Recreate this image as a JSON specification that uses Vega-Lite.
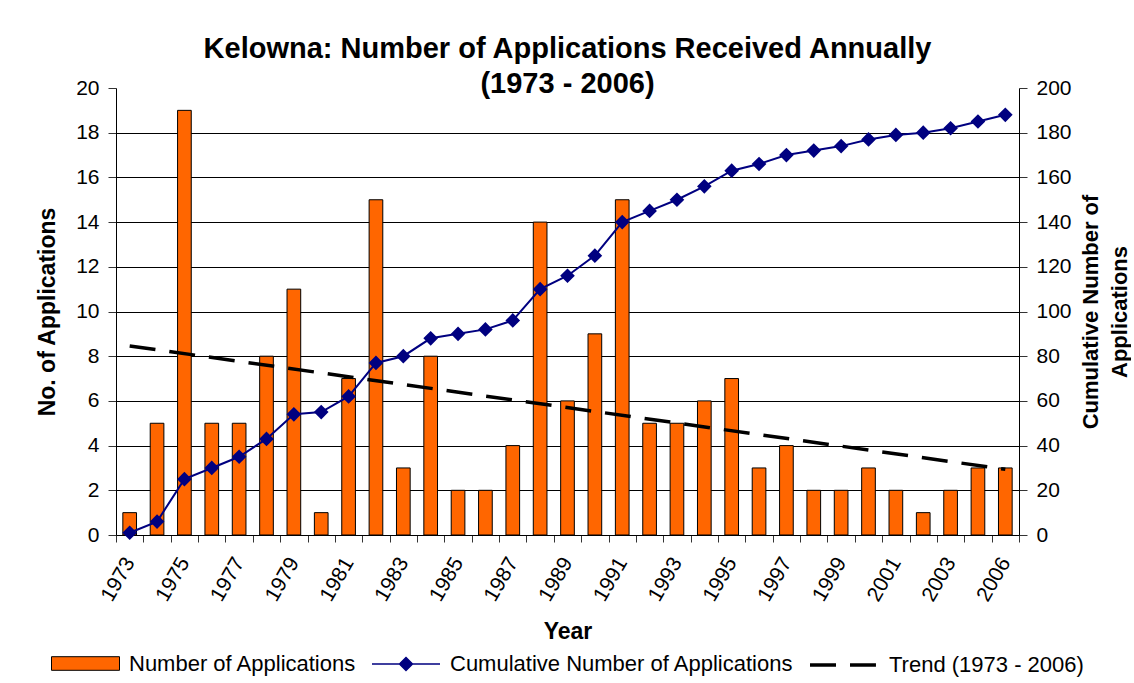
{
  "$schema": "https://vega.github.io/schema/vega-lite/v6.json",
  "width": 903,
  "height": 447,
  "padding": {"left": 36, "top": 35, "right": 0, "bottom": 5},
  "background": "white",
  "config": {
    "font": "Liberation Sans",
    "view": {"stroke": null},
    "axis": {"labelFont": "Liberation Sans", "titleFont": "Liberation Sans", "labelColor": "black", "titleColor": "black", "domainColor": "black", "tickColor": "#333333"},
    "legend": {
      "layout": {"direction": "horizontal", "anchor": "middle", "margin": 14, "left": {"direction": "vertical"}, "right": {"direction": "vertical"}}
    }
  },
  "title": {
    "text": ["Kelowna: Number of Applications Received Annually", "(1973 - 2006)"],
    "font": "Liberation Sans",
    "fontSize": 29,
    "fontWeight": "bold",
    "lineHeight": 35,
    "anchor": "middle",
    "frame": "group",
    "offset": -22,
    "color": "black"
  },
  "datasets": {
    "apps": [
      {"year": "1973", "applications": 1, "cumulative": 1},
      {"year": "1974", "applications": 5, "cumulative": 6},
      {"year": "1975", "applications": 19, "cumulative": 25},
      {"year": "1976", "applications": 5, "cumulative": 30},
      {"year": "1977", "applications": 5, "cumulative": 35},
      {"year": "1978", "applications": 8, "cumulative": 43},
      {"year": "1979", "applications": 11, "cumulative": 54},
      {"year": "1980", "applications": 1, "cumulative": 55},
      {"year": "1981", "applications": 7, "cumulative": 62},
      {"year": "1982", "applications": 15, "cumulative": 77},
      {"year": "1983", "applications": 3, "cumulative": 80},
      {"year": "1984", "applications": 8, "cumulative": 88},
      {"year": "1985", "applications": 2, "cumulative": 90},
      {"year": "1986", "applications": 2, "cumulative": 92},
      {"year": "1987", "applications": 4, "cumulative": 96},
      {"year": "1988", "applications": 14, "cumulative": 110},
      {"year": "1989", "applications": 6, "cumulative": 116},
      {"year": "1990", "applications": 9, "cumulative": 125},
      {"year": "1991", "applications": 15, "cumulative": 140},
      {"year": "1992", "applications": 5, "cumulative": 145},
      {"year": "1993", "applications": 5, "cumulative": 150},
      {"year": "1994", "applications": 6, "cumulative": 156},
      {"year": "1995", "applications": 7, "cumulative": 163},
      {"year": "1996", "applications": 3, "cumulative": 166},
      {"year": "1997", "applications": 4, "cumulative": 170},
      {"year": "1998", "applications": 2, "cumulative": 172},
      {"year": "1999", "applications": 2, "cumulative": 174},
      {"year": "2000", "applications": 3, "cumulative": 177},
      {"year": "2001", "applications": 2, "cumulative": 179},
      {"year": "2002", "applications": 1, "cumulative": 180},
      {"year": "2003", "applications": 2, "cumulative": 182},
      {"year": "2004", "applications": 3, "cumulative": 185},
      {"year": "2006", "applications": 3, "cumulative": 188}
    ],
    "trend": [
      {"year": "1973", "trend": 8.46},
      {"year": "2006", "trend": 2.94}
    ]
  },
  "layer": [
    {
      "data": {"name": "apps"},
      "mark": {"type": "bar", "width": {"band": 0.5}, "stroke": "black", "strokeWidth": 1},
      "encoding": {
        "x": {
          "field": "year", "type": "ordinal",
          "scale": {"paddingInner": 0, "paddingOuter": 0},
          "axis": {
            "title": "Year",
            "titleFontSize": 23, "titleFontWeight": "bold", "titlePadding": 16,
            "labelFontSize": 21, "labelAngle": -60, "labelAlign": "right", "labelBaseline": "middle",
            "labelPadding": 17, "labelOverlap": false,
            "labelExpr": "(toNumber(datum.value) % 2 == 1 || datum.value == '2006') ? datum.value : ''",
            "tickBand": "extent", "tickSize": 7, "domainColor": "black", "grid": false
          }
        },
        "y": {
          "field": "applications", "type": "quantitative",
          "scale": {"domain": [0, 20]},
          "axis": {
            "orient": "left",
            "title": "No. of Applications",
            "titleFontSize": 23, "titleFontWeight": "bold", "titlePadding": 16,
            "labelFontSize": 21, "labelPadding": 9, "tickSize": 8,
            "values": [0, 2, 4, 6, 8, 10, 12, 14, 16, 18, 20],
            "grid": true, "gridColor": "black",
            "gridOpacity": {"condition": {"test": "datum.value == 20", "value": 0}, "value": 1},
            "gridWidth": 1
          }
        },
        "fill": {
          "datum": "Number of Applications", "type": "nominal",
          "scale": {"domain": ["Number of Applications"], "range": ["#FF6600"]},
          "legend": {
            "title": null, "orient": "bottom", "direction": "horizontal", "offset": -15, "padding": 0,
            "labelFont": "Liberation Sans", "labelFontSize": 22, "labelColor": "black", "labelOffset": 9, "labelLimit": 500,
            "symbolType": "M-1,-0.2H1V0.2H-1Z", "symbolSize": 4624, "symbolStrokeColor": "black", "symbolStrokeWidth": 1, "symbolOpacity": 1
          }
        }
      }
    },
    {
      "data": {"name": "apps"},
      "mark": {
        "type": "line", "strokeWidth": 2,
        "point": {"shape": "diamond", "size": 140, "filled": true, "color": "#000080"}
      },
      "encoding": {
        "x": {"field": "year", "type": "ordinal"},
        "y": {
          "field": "cumulative", "type": "quantitative",
          "scale": {"domain": [0, 200]},
          "axis": {
            "orient": "right",
            "title": ["Cumulative Number of", "Applications"],
            "titleAngle": 270,
            "titleFontSize": 22, "titleFontWeight": "bold", "titleLineHeight": 29,
            "titlePadding": 2,
            "labelFontSize": 21, "labelPadding": 9, "tickSize": 8,
            "values": [0, 20, 40, 60, 80, 100, 120, 140, 160, 180, 200],
            "grid": false
          }
        },
        "stroke": {
          "datum": "Cumulative Number of Applications", "type": "nominal",
          "scale": {"domain": ["Cumulative Number of Applications"], "range": ["#000080"]},
          "legend": {
            "title": null, "orient": "bottom", "direction": "horizontal", "offset": -15, "padding": 0,
            "labelFont": "Liberation Sans", "labelFontSize": 22, "labelColor": "black", "labelOffset": 9, "labelLimit": 500,
            "symbolType": "M-1,0H1M0,-0.19L0.19,0L0,0.19L-0.19,0Z", "symbolSize": 4624, "symbolFillColor": "#000080", "symbolStrokeWidth": 1.5, "symbolOpacity": 1
          }
        }
      }
    },
    {
      "data": {"name": "trend"},
      "mark": {"type": "line", "color": "black", "strokeWidth": 3.5},
      "encoding": {
        "x": {"field": "year", "type": "ordinal"},
        "y": {"field": "trend", "type": "quantitative", "scale": {"domain": [0, 20]}, "axis": null},
        "strokeDash": {
          "datum": "Trend (1973 - 2006)", "type": "nominal",
          "scale": {"domain": ["Trend (1973 - 2006)"], "range": [[26, 14]]},
          "legend": {
            "title": null, "orient": "bottom", "direction": "horizontal", "offset": -15, "padding": 0,
            "labelFont": "Liberation Sans", "labelFontSize": 22, "labelColor": "black", "labelOffset": 9, "labelLimit": 500,
            "symbolType": "M-1,0H0.94", "symbolSize": 4624, "symbolStrokeColor": "black", "symbolStrokeWidth": 3.5, "symbolOpacity": 1
          }
        }
      }
    }
  ],
  "resolve": {"scale": {"y": "independent"}}
}
